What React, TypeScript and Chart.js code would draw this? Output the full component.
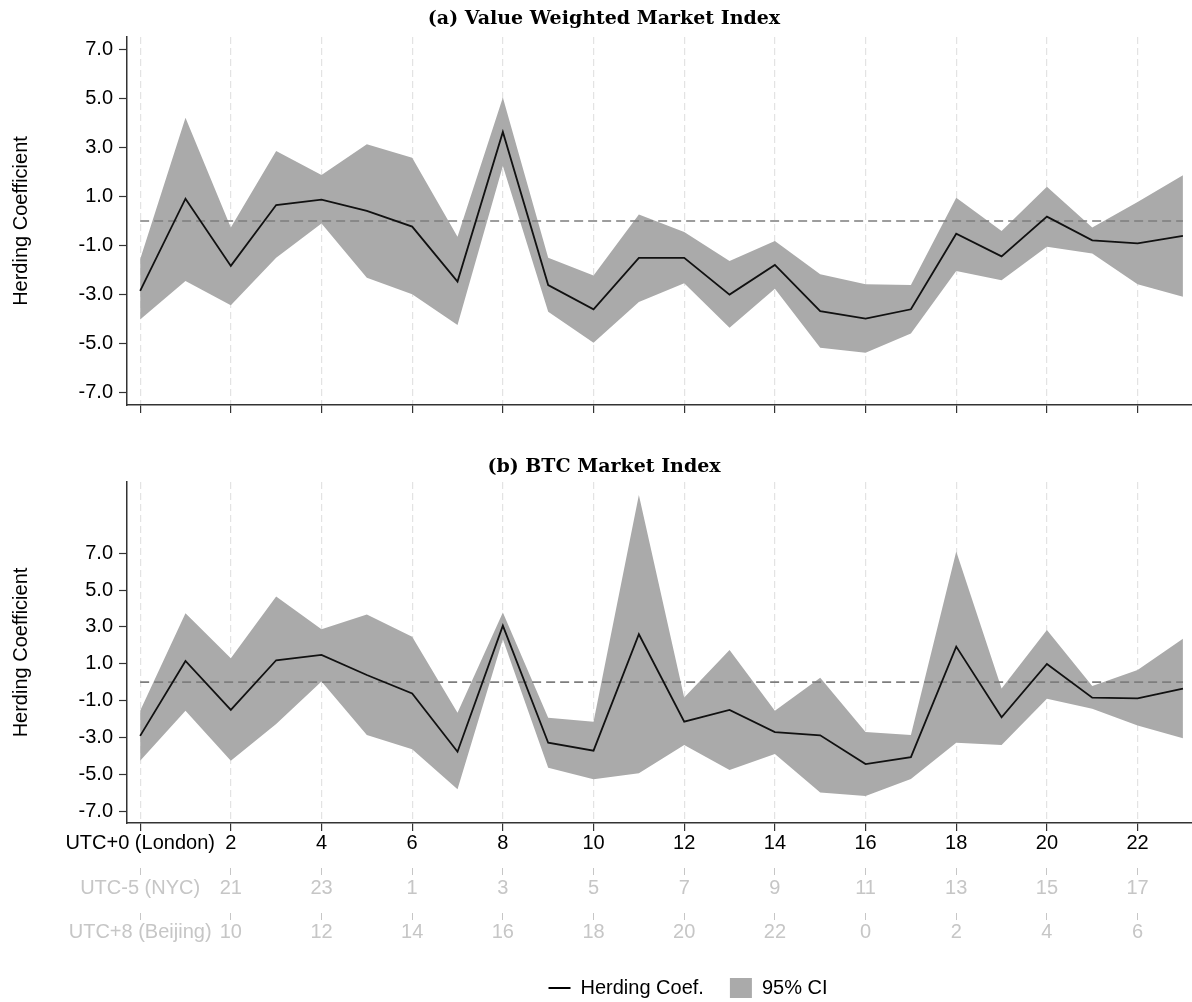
import React, { useEffect, useRef } from 'react';
import { Chart, registerables } from 'chart.js';

Chart.register(...registerables);

// ---------- data ----------
const hours = [0, 1, 2, 3, 4, 5, 6, 7, 8, 9, 10, 11, 12, 13, 14, 15, 16, 17, 18, 19, 20, 21, 22, 23];
const evenHourTicks = [0, 2, 4, 6, 8, 10, 12, 14, 16, 18, 20, 22];
const londonLabels = ['UTC+0 (London)', '2', '4', '6', '8', '10', '12', '14', '16', '18', '20', '22'];
const nycLabels = ['UTC-5 (NYC)', '21', '23', '1', '3', '5', '7', '9', '11', '13', '15', '17'];
const beijingLabels = ['UTC+8 (Beijing)', '10', '12', '14', '16', '18', '20', '22', '0', '2', '4', '6'];
const yTickValues = [-7, -5, -3, -1, 1, 3, 5, 7];
const yTickLabels = ['-7.0', '-5.0', '-3.0', '-1.0', '1.0', '3.0', '5.0', '7.0'];
const refLevel = 0;

// (a) Value Weighted Market Index
const coefA = [-2.85, 0.91, -1.83, 0.65, 0.87, 0.41, -0.23, -2.47, 3.63, -2.61, -3.6, -1.5, -1.5, -3.0, -1.79, -3.67, -3.98, -3.6, -0.52, -1.44, 0.18, -0.79, -0.91, -0.61];
const upperA = [-1.56, 4.21, -0.27, 2.85, 1.88, 3.13, 2.58, -0.64, 5.03, -1.5, -2.22, 0.27, -0.45, -1.63, -0.82, -2.17, -2.58, -2.61, 0.95, -0.41, 1.4, -0.27, 0.77, 1.86];
const lowerA = [-4.01, -2.45, -3.43, -1.5, -0.1, -2.31, -2.99, -4.24, 2.24, -3.7, -4.96, -3.3, -2.54, -4.35, -2.76, -5.17, -5.37, -4.59, -2.04, -2.42, -1.05, -1.32, -2.58, -3.09];

// (b) BTC Market Index
const coefB = [-2.92, 1.15, -1.51, 1.19, 1.48, 0.39, -0.61, -3.78, 3.07, -3.29, -3.72, 2.6, -2.15, -1.51, -2.71, -2.89, -4.45, -4.07, 1.93, -1.91, 0.99, -0.84, -0.88, -0.35];
const upperB = [-1.55, 3.74, 1.3, 4.65, 2.87, 3.67, 2.47, -1.66, 3.78, -1.93, -2.15, 10.17, -0.84, 1.75, -1.55, 0.24, -2.71, -2.87, 7.09, -0.34, 2.83, -0.21, 0.66, 2.35];
const lowerB = [-4.27, -1.55, -4.27, -2.27, 0.03, -2.87, -3.65, -5.82, 2.33, -4.65, -5.28, -4.95, -3.41, -4.77, -3.9, -6.0, -6.18, -5.26, -3.29, -3.41, -0.9, -1.44, -2.36, -3.05];

const xRange = [-0.29, 23.2];
const yRangeA = [-7.5, 7.5];
const yRangeB = [-7.65, 10.87];

// ---------- styles ----------
const SANS = "'Liberation Sans', Arial, Helvetica, sans-serif";
const SERIF = "'DejaVu Serif', 'Liberation Serif', serif";
const AXIS = '#333333';
const FILL = '#aaaaaa';
const LIGHT = '#c6c6c6';

const shiftPlugin = {
  id: 'shiftBlocks',
  afterLayout(chart: any) {
    const t = chart.titleBlock;
    if (t) { t.left += 8; t.right += 8; }
    const lg = chart.legend;
    if (lg && chart.options.plugins.legend.display) {
      lg.left += 92; lg.right += 92; lg.top += 6; lg.bottom += 6;
    }
  },
};

function pts(arr: number[]) {
  return hours.map((h, i) => ({ x: h, y: arr[i] }));
}

function extraAxis(labels: string[], weight: number, height: number, pad: number) {
  return {
    type: 'linear',
    axis: 'x',
    position: 'bottom',
    weight,
    min: xRange[0],
    max: xRange[1],
    afterBuildTicks: (s: any) => { s.ticks = evenHourTicks.map((v) => ({ value: v })); },
    afterFit: (s: any) => { s.height = height; },
    ticks: {
      autoSkip: false, maxRotation: 0, minRotation: 0, padding: pad,
      color: LIGHT, font: { family: SANS, size: 20 },
      callback: (_v: any, i: number) => labels[i],
    },
    grid: { display: true, drawOnChartArea: false, drawTicks: true, tickLength: 7, color: LIGHT, tickColor: LIGHT, tickWidth: 1 },
    border: { display: false },
  };
}

function buildConfig(title: string, coef: number[], upper: number[], lower: number[], yRange: number[], bottom: boolean) {
  const datasets = [
    { label: 'Herding Coef.', data: pts(coef), borderColor: '#111111', borderWidth: 1.8, pointRadius: 0, pointHoverRadius: 0, fill: false, tension: 0 },
    { label: 'zero', data: hours.map((h) => ({ x: h, y: refLevel })), borderColor: '#7d7d7d', borderWidth: 1.6, borderDash: [9, 5], pointRadius: 0, pointHoverRadius: 0, fill: false },
    { label: '95% CI', data: pts(upper), borderColor: 'rgba(0,0,0,0)', borderWidth: 0, backgroundColor: FILL, fill: '+1', pointRadius: 0, pointHoverRadius: 0 },
    { label: 'lower', data: pts(lower), borderColor: 'rgba(0,0,0,0)', borderWidth: 0, backgroundColor: FILL, fill: false, pointRadius: 0, pointHoverRadius: 0 },
  ];

  const scales: any = {
    x: {
      type: 'linear',
      position: 'bottom',
      weight: 1,
      min: xRange[0],
      max: xRange[1],
      z: 1,
      afterBuildTicks: (s: any) => { s.ticks = evenHourTicks.map((v) => ({ value: v })); },
      afterFit: (s: any) => { s.height = bottom ? 45 : 20; },
      ticks: {
        display: bottom,
        autoSkip: false, maxRotation: 0, minRotation: 0, padding: 0,
        color: '#000000', font: { family: SANS, size: 20 },
        callback: (_v: any, i: number) => londonLabels[i],
      },
      grid: {
        display: true, drawOnChartArea: true, drawTicks: true, tickLength: 8,
        color: 'rgba(215,215,215,0.7)', lineWidth: 1.2,
        tickColor: AXIS, tickWidth: 1.2, tickBorderDash: [],
      },
      border: { display: true, color: AXIS, width: 1.5, dash: [7, 4] },
    },
    y: {
      type: 'linear',
      position: 'left',
      min: yRange[0],
      max: yRange[1],
      afterBuildTicks: (s: any) => { s.ticks = yTickValues.map((v) => ({ value: v })); },
      afterFit: (s: any) => { s.width = 127; },
      ticks: {
        color: '#000000', font: { family: SANS, size: 20 }, padding: 6,
        callback: (_v: any, i: number) => yTickLabels[i],
      },
      grid: { display: true, drawOnChartArea: false, drawTicks: true, tickLength: 8, color: AXIS, tickColor: AXIS, tickWidth: 1.2 },
      border: { display: true, color: AXIS, width: 1.5 },
      title: { display: true, text: 'Herding Coefficient', color: '#000000', font: { family: SANS, size: 20 }, padding: { top: 9, bottom: 0 } },
    },
  };

  if (bottom) {
    scales.x2 = extraAxis(nycLabels, 2, 45, 1.5);
    scales.x3 = extraAxis(beijingLabels, 3, 33, 0);
  }

  return {
    type: 'line',
    data: { datasets },
    plugins: [shiftPlugin],
    options: {
      responsive: false,
      animation: false,
      events: [],
      layout: { autoPadding: false, padding: 0 },
      scales,
      plugins: {
        title: {
          display: true, text: title, color: '#000000',
          font: { family: SERIF, size: 19, weight: 'bold' },
          padding: { top: 8, bottom: bottom ? 3.2 : 6.2 },
        },
        tooltip: { enabled: false },
        filler: { propagate: false },
        legend: {
          display: bottom,
          position: 'bottom',
          align: 'center',
          labels: {
            usePointStyle: true, pointStyleWidth: 22, boxHeight: 20, padding: 26,
            color: '#000000', font: { family: SANS, size: 20 },
            generateLabels: () => [
              { text: 'Herding Coef.', pointStyle: 'line', strokeStyle: '#000000', fillStyle: '#000000', lineWidth: 2, hidden: false, datasetIndex: 0 },
              { text: '95% CI', pointStyle: 'rect', strokeStyle: FILL, fillStyle: FILL, lineWidth: 0, hidden: false, datasetIndex: 2 },
            ],
          },
        },
      },
    },
  };
}

export default function App() {
  const topRef = useRef<HTMLCanvasElement>(null);
  const botRef = useRef<HTMLCanvasElement>(null);

  useEffect(() => {
    const c1 = new Chart(topRef.current as any, buildConfig('(a) Value Weighted Market Index', coefA, upperA, lowerA, yRangeA, false) as any);
    const c2 = new Chart(botRef.current as any, buildConfig('(b) BTC Market Index', coefB, upperB, lowerB, yRangeB, true) as any);
    return () => { c1.destroy(); c2.destroy(); };
  }, []);

  return (
    <div style={{ position: 'fixed', left: 0, top: 0, width: 1192, height: 1002, background: '#ffffff', overflow: 'hidden' }}>
      <canvas ref={topRef} width={1192} height={425} style={{ position: 'absolute', left: 0, top: 0 }} />
      <canvas ref={botRef} width={1192} height={554} style={{ position: 'absolute', left: 0, top: 448 }} />
    </div>
  );
}
